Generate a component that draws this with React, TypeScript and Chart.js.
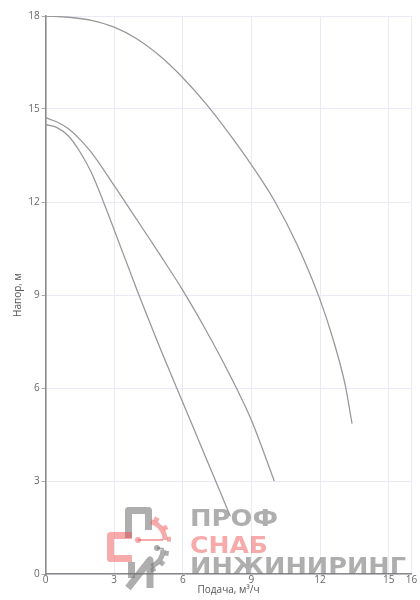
import React, { useEffect, useRef } from "react";
import { Chart, registerables } from "chart.js";

Chart.register(...registerables);

// ---- data ----
const flowTop = [0, 1, 2, 3, 4, 5, 6, 7, 8, 9, 10, 11, 12, 12.6, 13.1, 13.4];
const headTop = [18, 17.96, 17.86, 17.64, 17.26, 16.71, 16.01, 15.18, 14.23, 13.2, 12.05, 10.62, 8.85, 7.5, 6.1, 4.85];

const flowMid = [0, 0.5, 1, 1.5, 2, 3, 4, 5, 6, 7, 8, 9, 10];
const headMid = [14.72, 14.58, 14.36, 14.02, 13.6, 12.53, 11.42, 10.3, 9.15, 7.88, 6.5, 4.96, 3.0];

const flowLow = [0, 0.5, 1, 1.5, 2, 3, 4, 5, 6, 7, 8, 8.08];
const headLow = [14.5, 14.4, 14.13, 13.62, 12.95, 11.1, 9.15, 7.3, 5.53, 3.77, 2.0, 1.86];

const xTicks = [0, 3, 6, 9, 12, 15, 16];
const yTicks = [0, 3, 6, 9, 12, 15, 18];

const xTitle = "Подача, м³/ч";
const yTitle = "Напор, м";
const logoLines = ["ПРОФ", "СНАБ", "ИНЖИНИРИНГ"];

const toPoints = (xs: number[], ys: number[]) => xs.map((x, i) => ({ x, y: ys[i] }));

function drawStretched(ctx: CanvasRenderingContext2D, text: string, x: number, baseY: number, width: number, capH: number, color: string) {
  const size = capH / 0.73;
  ctx.save();
  ctx.font = `bold ${size}px "DejaVu Sans"`;
  ctx.textBaseline = "alphabetic";
  ctx.textAlign = "left";
  const w = ctx.measureText(text).width;
  ctx.translate(x, baseY);
  ctx.scale(width / w, 1);
  ctx.fillStyle = color;
  ctx.fillText(text, 0, 0);
  ctx.restore();
}

const logoPlugin = {
  id: "logoWatermark",
  beforeDatasetsDraw(chart: any) {
    const ctx: CanvasRenderingContext2D = chart.ctx;
    const gray = "rgba(115,115,115,0.58)";
    const pink = "rgba(236,78,78,0.48)";
    ctx.save();
    drawStretched(ctx, logoLines[0], 190, 526, 88, 17, gray);
    drawStretched(ctx, logoLines[1], 190, 553, 78, 17, pink);
    drawStretched(ctx, logoLines[2], 190, 574, 216, 17, gray);

    ctx.lineJoin = "round";
    ctx.lineCap = "butt";
    ctx.lineWidth = 7;
    // П
    ctx.strokeStyle = gray;
    ctx.beginPath();
    ctx.moveTo(128.5, 538);
    ctx.lineTo(128.5, 510.5);
    ctx.lineTo(148.5, 510.5);
    ctx.lineTo(148.5, 530);
    ctx.stroke();
    // С
    ctx.strokeStyle = pink;
    ctx.beginPath();
    ctx.moveTo(132, 535.5);
    ctx.lineTo(110.5, 535.5);
    ctx.lineTo(110.5, 558.5);
    ctx.lineTo(132, 558.5);
    ctx.stroke();
    // И
    ctx.strokeStyle = gray;
    ctx.beginPath();
    ctx.moveTo(128, 588);
    ctx.lineTo(150, 560);
    ctx.lineTo(150, 588);
    ctx.stroke();
    ctx.beginPath();
    ctx.moveTo(131.5, 562);
    ctx.lineTo(131.5, 578);
    ctx.stroke();
    // gear arcs
    ctx.lineWidth = 5;
    ctx.strokeStyle = pink;
    ctx.beginPath();
    ctx.arc(146, 540, 19, -Math.PI * 0.42, 0);
    ctx.stroke();
    ctx.fillStyle = pink;
    for (let a = -0.35; a <= 0; a += 0.17) {
      const ang = a * Math.PI;
      ctx.save();
      ctx.translate(146 + Math.cos(ang) * 21, 540 + Math.sin(ang) * 21);
      ctx.rotate(ang);
      ctx.fillRect(0, -2.5, 4, 5);
      ctx.restore();
    }
    ctx.strokeStyle = gray;
    ctx.beginPath();
    ctx.arc(146, 550, 17, 0, Math.PI * 0.4);
    ctx.stroke();
    ctx.fillStyle = gray;
    for (let a = 0.05; a <= 0.4; a += 0.17) {
      const ang = a * Math.PI;
      ctx.save();
      ctx.translate(146 + Math.cos(ang) * 19, 550 + Math.sin(ang) * 19);
      ctx.rotate(ang);
      ctx.fillRect(0, -2.5, 4, 5);
      ctx.restore();
    }
    // connector lines with dots
    ctx.lineWidth = 2;
    ctx.strokeStyle = pink;
    ctx.beginPath();
    ctx.moveTo(138, 540);
    ctx.lineTo(163, 540);
    ctx.stroke();
    ctx.fillStyle = pink;
    ctx.beginPath();
    ctx.arc(138, 540, 3, 0, Math.PI * 2);
    ctx.fill();
    ctx.strokeStyle = gray;
    ctx.beginPath();
    ctx.moveTo(157, 548);
    ctx.lineTo(164, 549);
    ctx.stroke();
    ctx.fillStyle = gray;
    ctx.beginPath();
    ctx.arc(157, 548, 3, 0, Math.PI * 2);
    ctx.fill();
    ctx.restore();
  },
};

export default function App() {
  const ref = useRef<HTMLCanvasElement | null>(null);

  useEffect(() => {
    if (!ref.current) return;
    const lineStyle = {
      borderColor: "#999999",
      borderWidth: 1.3,
      pointRadius: 0,
      showLine: true,
      fill: false,
      cubicInterpolationMode: "monotone" as const,
    };
    const chart = new Chart(ref.current, {
      type: "scatter",
      data: {
        datasets: [
          { label: "1", data: toPoints(flowTop, headTop), ...lineStyle },
          { label: "2", data: toPoints(flowMid, headMid), ...lineStyle },
          { label: "3", data: toPoints(flowLow, headLow), ...lineStyle },
        ],
      },
      options: {
        animation: false,
        responsive: false,
        layout: { padding: { top: 16, right: 8.5, left: 0, bottom: 0 } },
        plugins: { legend: { display: false }, tooltip: { enabled: false } },
        scales: {
          x: {
            type: "linear",
            min: 0,
            max: 16,
            afterBuildTicks: (scale: any) => {
              scale.ticks = xTicks.map((v) => ({ value: v }));
            },
            afterFit: (scale: any) => {
              scale.height = 26;
            },
            grid: { color: "#e8ebf5", lineWidth: 1, drawTicks: false },
            border: { color: "#8a8a8a", width: 1.6 },
            ticks: {
              color: "#666",
              padding: 0,
              autoSkip: false,
              maxRotation: 0,
              font: { family: "Open Sans", size: 10, lineHeight: 1.2 },
            },
            title: {
              display: true,
              text: xTitle,
              color: "#555",
              font: { family: "Open Sans", size: 10, lineHeight: 1.2 },
              padding: { top: 0, bottom: 4 },
            },
          },
          y: {
            type: "linear",
            min: 0,
            max: 18,
            afterBuildTicks: (scale: any) => {
              scale.ticks = yTicks.map((v) => ({ value: v }));
            },
            afterFit: (scale: any) => {
              scale.width = 45.6;
            },
            grid: { color: "#e8ebf5", lineWidth: 1, tickLength: 4, tickColor: "#aaa" },
            border: { color: "#8a8a8a", width: 1.6 },
            ticks: {
              color: "#666",
              padding: 2,
              font: { family: "Open Sans", size: 10, lineHeight: 1.2 },
            },
            title: {
              display: true,
              text: yTitle,
              color: "#555",
              font: { family: "Open Sans", size: 10, lineHeight: 1.2 },
              padding: { top: 12, bottom: 0 },
            },
          },
        },
      },
      plugins: [logoPlugin],
    });
    return () => chart.destroy();
  }, []);

  return (
    <div style={{ position: "absolute", left: 0, top: 0, width: 420, height: 600, background: "#fff" }}>
      <canvas ref={ref} width={420} height={600} />
    </div>
  );
}
